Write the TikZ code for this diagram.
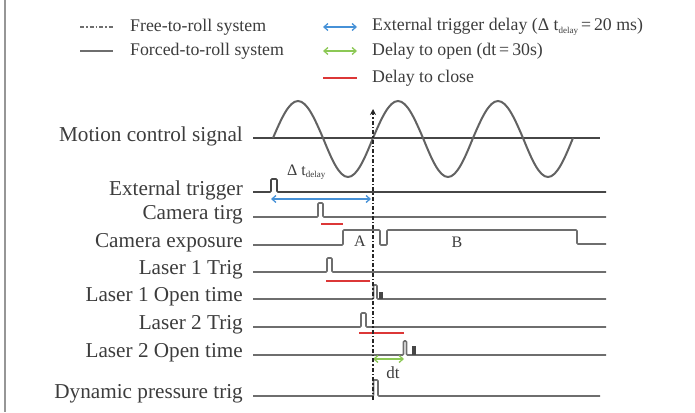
\documentclass[tikz,border=0pt]{standalone}
\usepackage{fontspec}
\setmainfont{Liberation Serif}
\usepackage{xcolor}
\definecolor{SigGray}{RGB}{110,110,110}
\definecolor{AxisGray}{RGB}{70,70,70}
\definecolor{TextGray}{RGB}{60,60,60}
\definecolor{FrameGray}{RGB}{150,150,150}
\definecolor{DelayBlue}{RGB}{70,145,215}
\definecolor{OpenGreen}{RGB}{140,200,85}
\definecolor{CloseRed}{RGB}{220,55,55}
\usetikzlibrary{arrows.meta, positioning}
\tikzset{
  % signal traces
  sig/.style={draw=SigGray, line width=1.6pt, rounded corners=1pt},
  axisline/.style={draw=AxisGray, line width=1.7pt},
  sine/.style={draw=AxisGray!85, line width=2pt},
  cutline/.style={draw=black!85, line width=1.4pt,
    dash pattern=on 4pt off 2pt on 1.5pt off 2pt},
  % texts
  lbl/.style={anchor=east, text=TextGray, inner sep=0pt,
    font=\fontsize{21.2}{25}\selectfont},
  legtxt/.style={anchor=west, text=TextGray, inner sep=0pt,
    font=\fontsize{17.8}{21}\selectfont},
  smalltxt/.style={text=TextGray, inner sep=0pt,
    font=\fontsize{16}{18}\selectfont},
  % delay markers
  dlyarr/.style={{Straight Barb[length=4pt,width=7pt]}-{Straight Barb[length=4pt,width=7pt]},
    line width=1.3pt, DelayBlue},
  openarr/.style={dlyarr, OpenGreen},
  closebar/.style={line width=2pt, CloseRed},
}
\newcommand{\subdelay}{\raisebox{-0.35ex}{\fontsize{9}{10}\selectfont delay}}

\begin{document}
\begin{tikzpicture}[x=1pt, y=-1pt]
  \useasboundingbox (0,0) rectangle (695,412);

  %% frame edge
  \coordinate (frameT) at (5,0);
  \coordinate (frameB) at (5,412);
  \draw[FrameGray, line width=1.5pt] (frameT) -- (frameB);

  %% legend
  \node[legtxt] (legfree)   at (130,27) {Free-to-roll system};
  \node[legtxt] (legforced) at (130,51) {Forced-to-roll system};
  \node[legtxt] (legdelay)  at (372,27) {External trigger delay (Δ t\subdelay\,=\,20 ms)};
  \node[legtxt] (legopen)   at (372,51) {Delay to open (dt\,=\,30s)};
  \node[legtxt] (legclose)  at (372,78) {Delay to close};
  \coordinate (sfreeL) at (80,27);    \coordinate (sfreeR) at (113,27);
  \coordinate (sforcL) at (80,51);    \coordinate (sforcR) at (113,51);
  \coordinate (sdlyL)  at (323,27);   \coordinate (sdlyR)  at (357,27);
  \coordinate (sopenL) at (323,51);   \coordinate (sopenR) at (357,51);
  \coordinate (scloL)  at (323,78);   \coordinate (scloR)  at (357,78);
  \draw[cutline, draw=SigGray] (sfreeL) -- (sfreeR);
  \draw[sig] (sforcL) -- (sforcR);
  \draw[dlyarr] (sdlyL) -- (sdlyR);
  \draw[openarr] (sopenL) -- (sopenR);
  \draw[closebar] (scloL) -- (scloR);

  %% row labels
  \node[lbl] (lmotion) at (243,136) {Motion control signal};
  \node[lbl] (lext)    at (243,190) {External trigger};
  \node[lbl] (lcamt)   at (243,215) {Camera tirg};
  \node[lbl] (lcame)   at (243,243) {Camera exposure};
  \node[lbl] (lltrig)  at (243,270) {Laser 1 Trig};
  \node[lbl] (llopen)  at (243,297) {Laser 1 Open time};
  \node[lbl] (lmtrig)  at (243,325) {Laser 2 Trig};
  \node[lbl] (lmopen)  at (243,353) {Laser 2 Open time};
  \node[lbl] (ldyn)    at (243,394) {Dynamic pressure trig};

  %% motion control signal
  \draw[axisline] (253,138) -- (600,138);
  \draw[sine] (273,138) sin (298,101) cos (323,138) sin (348,177) cos (373,138)
              sin (398,101) cos (423,138) sin (448,177) cos (473,138)
              sin (498,101) cos (523,138) sin (548,177) cos (573,138);

  %% trigger and exposure traces
  \draw[axisline, rounded corners=1pt] (253,192) -- (271,192) -- (271,179) -- (277,179) -- (277,192) -- (606,192);
  \draw[sig] (253,217) -- (318,217) -- (318,203) -- (323,203) -- (323,217) -- (606,217);
  \draw[sig] (253,245) -- (343,245) -- (343,230) -- (380,230) -- (380,245) -- (387,245)
             -- (387,230) -- (577,230) -- (577,244) -- (606,244);
  \draw[sig] (253,272) -- (327,272) -- (327,258) -- (332,258) -- (332,272) -- (606,272);
  \draw[sig] (253,299) -- (373.5,299) -- (373.5,285) -- (377,285) -- (377,299) -- (606,299);
  \fill[AxisGray] (378.5,292) rectangle (382.5,299);
  \draw[sig] (253,327) -- (361,327) -- (361,313) -- (366,313) -- (366,327) -- (606,327);
  \draw[sig] (253,355) -- (403.5,355) -- (403.5,341) -- (406.5,341) -- (406.5,355) -- (606,355);
  \fill[AxisGray] (411.5,346) rectangle (415.5,355);
  \draw[sig] (253,396) -- (373.5,396) -- (373.5,380) -- (378,380) -- (378,396) -- (600,396);

  %% exposure windows
  \node[smalltxt] (winA) at (360,241) {A};
  \node[smalltxt] (winB) at (457,242) {B};

  %% delays
  \coordinate (dlyL) at (271,199);  \coordinate (dlyR) at (371,199);
  \draw[dlyarr] (dlyL) -- (dlyR);
  \node[smalltxt, anchor=west] (dlytxt) at (287,172) {Δ t\subdelay};
  \coordinate (camcL) at (321,224); \coordinate (camcR) at (343,224);
  \draw[closebar] (camcL) -- (camcR);
  \coordinate (l1cL) at (326,281);  \coordinate (l1cR) at (370,281);
  \draw[closebar] (l1cL) -- (l1cR);
  \coordinate (l2cL) at (359,333);  \coordinate (l2cR) at (404,333);
  \draw[closebar] (l2cL) -- (l2cR);
  \coordinate (openL) at (373,359); \coordinate (openR) at (404,359);
  \draw[openarr] (openL) -- (openR);
  \node[smalltxt, font=\fontsize{17}{20}\selectfont] (dttxt) at (393,373) {dt};

  %% free-to-roll cut
  \coordinate (cutB) at (373,400);
  \coordinate (cutT) at (373,109);
  \draw[cutline, -{Stealth[length=6pt,width=6pt]}] (cutB) -- (cutT);

\end{tikzpicture}
\end{document}
